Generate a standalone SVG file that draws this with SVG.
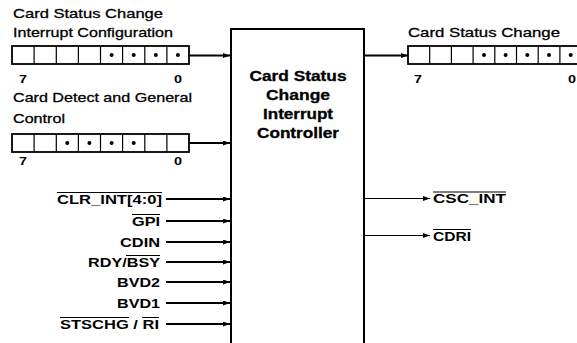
<svg xmlns="http://www.w3.org/2000/svg" width="577" height="343" viewBox="0 0 577 343">
<style>
.t{font-family:"Liberation Sans",Arial,sans-serif;font-size:13.5px;fill:#000;stroke:#000;stroke-width:0.3}
.b{font-family:"Liberation Sans",Arial,sans-serif;font-size:13px;font-weight:bold;fill:#000}
.h{font-family:"Liberation Sans",Arial,sans-serif;font-size:14px;font-weight:bold;fill:#000;stroke:#000;stroke-width:0.3}
.d{font-family:"Liberation Sans",Arial,sans-serif;font-size:11px;font-weight:bold;fill:#000}
.reg{fill:#fff;stroke:#000;stroke-width:1.8}
.cell{stroke:#000;stroke-width:1.2}
.w{stroke:#000;stroke-width:2;fill:none}
.thin{stroke:#000;stroke-width:1.2;fill:none}
.ov{stroke:#000;stroke-width:1}
</style>
<defs>
<marker id="ah" markerUnits="userSpaceOnUse" markerWidth="8" markerHeight="6" refX="7" refY="2.5" orient="auto">
<path d="M0,0 L7,2.5 L0,5 z" fill="#000"/>
</marker>
</defs>
<rect width="577" height="343" fill="#fff"/>

<g id="controller">
<rect x="231" y="29" width="133" height="330" fill="#fff" stroke="#000" stroke-width="2"/>
<text class="h" x="249.5" y="81" textLength="97" lengthAdjust="spacingAndGlyphs">Card Status</text>
<text class="h" x="266" y="100" textLength="64" lengthAdjust="spacingAndGlyphs">Change</text>
<text class="h" x="263" y="119" textLength="70" lengthAdjust="spacingAndGlyphs">Interrupt</text>
<text class="h" x="257" y="138" textLength="82" lengthAdjust="spacingAndGlyphs">Controller</text>
</g>

<g id="csc-config-register">
<text class="t" x="13" y="18" textLength="150" lengthAdjust="spacingAndGlyphs">Card Status Change</text>
<text class="t" x="13" y="37" textLength="160" lengthAdjust="spacingAndGlyphs">Interrupt Configuration</text>
<rect class="reg" x="12" y="46" width="177" height="18"/>
<path class="cell" d="M34.1,46V64M56.3,46V64M78.4,46V64M100.5,46V64M122.6,46V64M144.8,46V64M166.9,46V64"/>
<circle cx="111.6" cy="55" r="2"/><circle cx="133.7" cy="55" r="2"/><circle cx="155.8" cy="55" r="2"/><circle cx="177.9" cy="55" r="2"/>
<text class="d" x="19" y="83" textLength="8" lengthAdjust="spacingAndGlyphs">7</text>
<text class="d" x="174" y="83" textLength="8" lengthAdjust="spacingAndGlyphs">0</text>
</g>

<g id="card-detect-register">
<text class="t" x="13" y="102" textLength="179" lengthAdjust="spacingAndGlyphs">Card Detect and General</text>
<text class="t" x="13" y="123" textLength="52" lengthAdjust="spacingAndGlyphs">Control</text>
<rect class="reg" x="12" y="134" width="177" height="18"/>
<path class="cell" d="M34.1,134V152M56.3,134V152M78.4,134V152M100.5,134V152M122.6,134V152M144.8,134V152M166.9,134V152"/>
<circle cx="67.3" cy="143" r="2"/><circle cx="89.4" cy="143" r="2"/><circle cx="111.6" cy="143" r="2"/><circle cx="133.7" cy="143" r="2"/>
<text class="d" x="19" y="165" textLength="8" lengthAdjust="spacingAndGlyphs">7</text>
<text class="d" x="174" y="165" textLength="8" lengthAdjust="spacingAndGlyphs">0</text>
</g>

<g id="csc-register">
<text class="t" x="408" y="37" textLength="152" lengthAdjust="spacingAndGlyphs">Card Status Change</text>
<rect class="reg" x="408" y="46" width="174" height="18"/>
<path class="cell" d="M429.7,46V64M451.4,46V64M473.1,46V64M494.8,46V64M516.5,46V64M538.2,46V64M559.9,46V64"/>
<circle cx="484" cy="55" r="2"/><circle cx="505.6" cy="55" r="2"/><circle cx="527.3" cy="55" r="2"/><circle cx="549" cy="55" r="2"/><circle cx="570.7" cy="55" r="2"/>
<text class="d" x="414" y="83" textLength="8" lengthAdjust="spacingAndGlyphs">7</text>
<text class="d" x="568" y="83" textLength="8" lengthAdjust="spacingAndGlyphs">0</text>
</g>

<g id="input-signals">
<text class="b" x="57" y="203.5" textLength="105" lengthAdjust="spacingAndGlyphs">CLR_INT[4:0]</text>
<line class="ov" x1="57" y1="192.5" x2="162" y2="192.5"/>
<text class="b" x="132" y="225.5" textLength="28" lengthAdjust="spacingAndGlyphs">GPI</text>
<line class="ov" x1="132" y1="214.5" x2="160" y2="214.5"/>
<text class="b" x="120" y="246.5" textLength="40" lengthAdjust="spacingAndGlyphs">CDIN</text>
<text class="b" x="88" y="266.5" textLength="72" lengthAdjust="spacingAndGlyphs">RDY/BSY</text>
<line class="ov" x1="126" y1="255.5" x2="160" y2="255.5"/>
<text class="b" x="117" y="286.5" textLength="43" lengthAdjust="spacingAndGlyphs">BVD2</text>
<text class="b" x="117" y="307.5" textLength="43" lengthAdjust="spacingAndGlyphs">BVD1</text>
<text class="b" x="60" y="328.5" textLength="99" lengthAdjust="spacingAndGlyphs">STSCHG / RI</text>
<line class="ov" x1="60" y1="317.5" x2="129" y2="317.5"/>
<line class="ov" x1="142" y1="317.5" x2="159" y2="317.5"/>
</g>

<g id="output-signals">
<text class="b" x="433" y="203" textLength="73" lengthAdjust="spacingAndGlyphs">CSC_INT</text>
<line class="ov" x1="433" y1="192" x2="506" y2="192"/>
<text class="b" x="433" y="240.5" textLength="38" lengthAdjust="spacingAndGlyphs">CDRI</text>
<line class="ov" x1="433" y1="229.5" x2="471" y2="229.5"/>
</g>

<g id="connectors">
<line class="w" x1="189" y1="55.5" x2="230" y2="55.5" marker-end="url(#ah)"/>
<line class="w" x1="189" y1="143" x2="230" y2="143" marker-end="url(#ah)"/>
<line class="w" x1="364" y1="55.5" x2="408" y2="55.5" marker-end="url(#ah)"/>
<line class="w" x1="166" y1="199" x2="230" y2="199" marker-end="url(#ah)"/>
<line class="w" x1="166" y1="221" x2="230" y2="221" marker-end="url(#ah)"/>
<line class="w" x1="166" y1="242" x2="230" y2="242" marker-end="url(#ah)"/>
<line class="w" x1="166" y1="262" x2="230" y2="262" marker-end="url(#ah)"/>
<line class="w" x1="166" y1="282" x2="230" y2="282" marker-end="url(#ah)"/>
<line class="w" x1="166" y1="303" x2="230" y2="303" marker-end="url(#ah)"/>
<line class="w" x1="166" y1="324" x2="230" y2="324" marker-end="url(#ah)"/>
<line class="thin" x1="364" y1="198.5" x2="430" y2="198.5" marker-end="url(#ah)"/>
<line class="thin" x1="364" y1="235.5" x2="430" y2="235.5" marker-end="url(#ah)"/>
</g>
</svg>
